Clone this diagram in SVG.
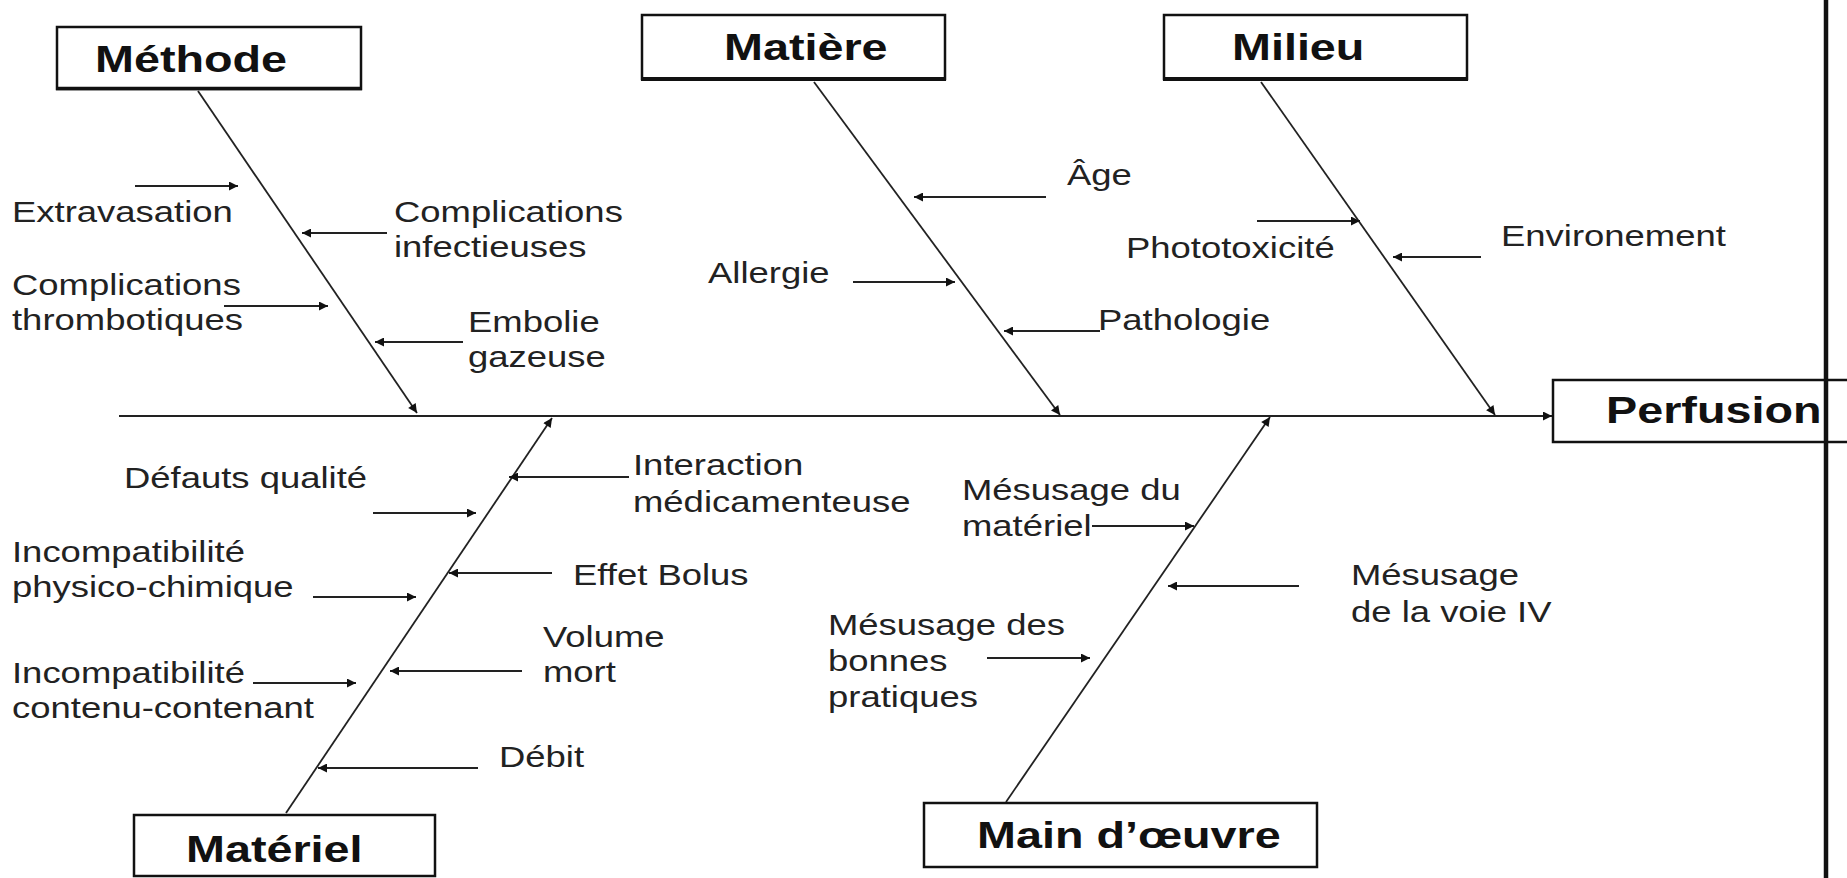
<svg xmlns="http://www.w3.org/2000/svg" width="1847" height="878" viewBox="0 0 1847 878">
<style>
.box{fill:#fff;stroke:#111;stroke-width:2.5}
.title{font-family:"Liberation Sans",Arial,sans-serif;font-weight:bold;font-size:36.8px;fill:#111}
.lbl{font-family:"Liberation Sans",Arial,sans-serif;font-size:28.7px;fill:#222}
.sp{stroke:#222;stroke-width:1.8;fill:none}
.ar{stroke:#222;stroke-width:2.2;fill:none;marker-end:url(#ah)}
.spa{stroke:#222;stroke-width:1.8;fill:none;marker-end:url(#ah)}
</style>
<defs>
<marker id="ah" viewBox="0 0 10 10" refX="10" refY="5" markerWidth="11" markerHeight="9" markerUnits="userSpaceOnUse" orient="auto"><path d="M0,0 L10,5 L0,10 z" fill="#111"/></marker>
</defs>
<rect width="1847" height="878" fill="#fff"/>

<g id="connectors">
<line class="spa" x1="119" y1="416" x2="1552" y2="416"/>
<line class="spa" x1="198" y1="91" x2="417" y2="413"/>
<line class="spa" x1="814" y1="82" x2="1060" y2="415"/>
<line class="spa" x1="1261" y1="82" x2="1495" y2="415"/>
<line class="spa" x1="286" y1="813" x2="552" y2="418"/>
<line class="spa" x1="1006" y1="802" x2="1270" y2="417"/>
<line class="ar" x1="135" y1="186" x2="238" y2="186"/>
<line class="ar" x1="387" y1="233" x2="302" y2="233"/>
<line class="ar" x1="224" y1="306" x2="328" y2="306"/>
<line class="ar" x1="463" y1="342" x2="375" y2="342"/>
<line class="ar" x1="1046" y1="197" x2="914" y2="197"/>
<line class="ar" x1="853" y1="282" x2="955" y2="282"/>
<line class="ar" x1="1100" y1="331" x2="1004" y2="331"/>
<line class="ar" x1="1257" y1="221" x2="1360" y2="221"/>
<line class="ar" x1="1481" y1="257" x2="1393" y2="257"/>
<line class="ar" x1="629" y1="477" x2="509" y2="477"/>
<line class="ar" x1="373" y1="513" x2="476" y2="513"/>
<line class="ar" x1="313" y1="597" x2="416" y2="597"/>
<line class="ar" x1="552" y1="573" x2="449" y2="573"/>
<line class="ar" x1="522" y1="671" x2="390" y2="671"/>
<line class="ar" x1="253" y1="683" x2="356" y2="683"/>
<line class="ar" x1="478" y1="768" x2="318" y2="768"/>
<line class="ar" x1="1092" y1="526" x2="1194" y2="526"/>
<line class="ar" x1="1299" y1="586" x2="1168" y2="586"/>
<line class="ar" x1="987" y1="658" x2="1090" y2="658"/>
</g>

<g id="methode">
<rect class="box" x="57" y="27" width="304" height="62"/>
<line x1="56" y1="88.5" x2="362" y2="88.5" stroke="#111" stroke-width="3.5"/>
<text class="title" transform="translate(95,72) scale(1.27,1)">Méthode</text>
</g>
<g id="matiere">
<rect class="box" x="642" y="15" width="303" height="64"/>
<line x1="641" y1="79" x2="946" y2="79" stroke="#111" stroke-width="4"/>
<text class="title" transform="translate(724,60) scale(1.27,1)">Matière</text>
</g>
<g id="milieu">
<rect class="box" x="1164" y="15" width="303" height="64"/>
<line x1="1163" y1="79" x2="1468" y2="79" stroke="#111" stroke-width="4"/>
<text class="title" transform="translate(1232,60) scale(1.27,1)">Milieu</text>
</g>
<g id="perfusion">
<rect class="box" x="1553" y="380" width="310" height="62"/>
<text class="title" transform="translate(1606,423) scale(1.27,1)">Perfusion</text>
</g>
<g id="materiel">
<rect class="box" x="134" y="815" width="301" height="61"/>
<text class="title" transform="translate(186,862) scale(1.27,1)">Matériel</text>
</g>
<g id="main-oeuvre">
<rect class="box" x="924" y="803" width="393" height="64"/>
<text class="title" transform="translate(977,848) scale(1.27,1)">Main d’œuvre</text>
</g>
<line id="frame-line" x1="1826" y1="0" x2="1826" y2="878" stroke="#111" stroke-width="4.5"/>

<g id="labels">
<g id="l-extravasation"><text class="lbl" transform="translate(12,222) scale(1.27,1)">Extravasation</text></g>
<g id="l-compl-inf"><text class="lbl" transform="translate(394,222) scale(1.27,1)"><tspan x="0" y="0">Complications</tspan><tspan x="0" y="35">infectieuses</tspan></text></g>
<g id="l-compl-thr"><text class="lbl" transform="translate(12,295) scale(1.27,1)"><tspan x="0" y="0">Complications</tspan><tspan x="0" y="35">thrombotiques</tspan></text></g>
<g id="l-embolie"><text class="lbl" transform="translate(468,332) scale(1.27,1)"><tspan x="0" y="0">Embolie</tspan><tspan x="0" y="35">gazeuse</tspan></text></g>
<g id="l-age"><text class="lbl" transform="translate(1067,185) scale(1.27,1)">Âge</text></g>
<g id="l-allergie"><text class="lbl" transform="translate(708,283) scale(1.27,1)">Allergie</text></g>
<g id="l-pathologie"><text class="lbl" transform="translate(1098,330) scale(1.27,1)">Pathologie</text></g>
<g id="l-phototox"><text class="lbl" transform="translate(1126,258) scale(1.27,1)">Phototoxicité</text></g>
<g id="l-environement"><text class="lbl" transform="translate(1501,246) scale(1.27,1)">Environement</text></g>
<g id="l-interaction"><text class="lbl" transform="translate(633,475) scale(1.27,1)"><tspan x="0" y="0">Interaction</tspan><tspan x="0" y="37">médicamenteuse</tspan></text></g>
<g id="l-defauts"><text class="lbl" transform="translate(124,488) scale(1.27,1)">Défauts qualité</text></g>
<g id="l-incomp-phys"><text class="lbl" transform="translate(12,562) scale(1.27,1)"><tspan x="0" y="0">Incompatibilité</tspan><tspan x="0" y="35">physico-chimique</tspan></text></g>
<g id="l-bolus"><text class="lbl" transform="translate(573,585) scale(1.27,1)">Effet Bolus</text></g>
<g id="l-volume"><text class="lbl" transform="translate(543,647) scale(1.27,1)"><tspan x="0" y="0">Volume</tspan><tspan x="0" y="35">mort</tspan></text></g>
<g id="l-incomp-cont"><text class="lbl" transform="translate(12,683) scale(1.27,1)"><tspan x="0" y="0">Incompatibilité</tspan><tspan x="0" y="35">contenu-contenant</tspan></text></g>
<g id="l-debit"><text class="lbl" transform="translate(499,767) scale(1.27,1)">Débit</text></g>
<g id="l-mes-mat"><text class="lbl" transform="translate(962,500) scale(1.27,1)"><tspan x="0" y="0">Mésusage du</tspan><tspan x="0" y="36">matériel</tspan></text></g>
<g id="l-mes-voie"><text class="lbl" transform="translate(1351,585) scale(1.27,1)"><tspan x="0" y="0">Mésusage</tspan><tspan x="0" y="37">de la voie IV</tspan></text></g>
<g id="l-mes-bp"><text class="lbl" transform="translate(828,635) scale(1.27,1)"><tspan x="0" y="0">Mésusage des</tspan><tspan x="0" y="36">bonnes</tspan><tspan x="0" y="72">pratiques</tspan></text></g>
</g>
</svg>
